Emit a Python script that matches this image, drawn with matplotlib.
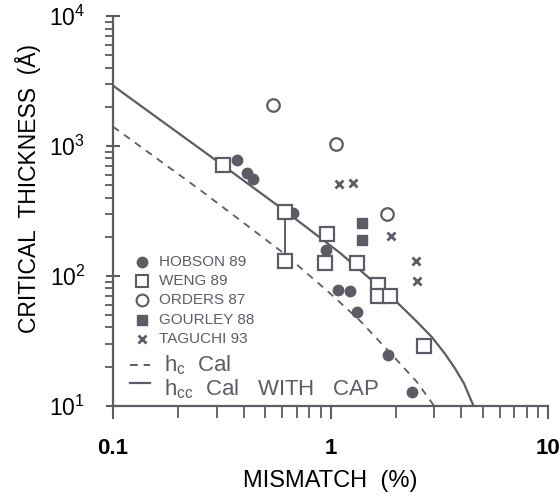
import numpy as np
import matplotlib
matplotlib.use("Agg")
import matplotlib.pyplot as plt
from matplotlib.ticker import LogLocator, FixedLocator, FixedFormatter

plt.rcParams['font.family'] = ['Liberation Sans', 'DejaVu Sans']
plt.rcParams['mathtext.fontset'] = 'custom'
plt.rcParams['mathtext.rm'] = 'Liberation Sans'
plt.rcParams['mathtext.it'] = 'Liberation Sans'

GRAY = '#5c5c66'

# data (mismatch %, thickness A)
hobson_x = [0.371, 0.412, 0.439, 0.675, 0.953, 1.083, 1.229, 1.324, 1.84, 2.36]
hobson_y = [780, 623, 554, 307, 157, 78, 76, 52.9, 24.7, 12.7]

weng_x = [0.319, 0.62, 0.62, 0.961, 0.944, 1.328, 1.66, 1.66, 1.877, 2.69]
weng_y = [711, 312, 129, 210, 125, 125, 85.3, 70.2, 70.2, 28.6]

orders_x = [0.546, 1.055, 1.824]
orders_y = [2067, 1027, 300]

gourley_x = [1.392, 1.392]
gourley_y = [254, 189]

taguchi_x = [1.094, 1.273, 1.89, 2.47, 2.51]
taguchi_y = [510, 522, 204, 129, 92]

# calculated curves
hc_x = [0.1, 0.251, 0.607, 0.995, 1.366, 1.877, 2.49, 2.99]
hc_y = [1406, 459, 150, 73.3, 45.1, 25.6, 15.3, 10]

hcc_x = [0.1, 0.319, 0.624, 1.106, 1.98, 2.49, 2.93, 3.36, 3.74, 4.11, 4.54]
hcc_y = [2910, 711, 312, 150, 64.7, 44.5, 33.6, 25.1, 19.3, 14.8, 10]

fig = plt.figure(figsize=(5.6, 4.97), dpi=100)
ax = fig.add_axes([0.2018, 0.1837, 0.7768, 0.7841])
ax.set_xscale('log')
ax.set_yscale('log')
ax.set_xlim(0.1, 10)
ax.set_ylim(10, 1e4)

ax.plot(hc_x, hc_y, '--', color=GRAY, lw=1.3, dashes=(4, 3.5))
ax.plot(hcc_x, hcc_y, '-', color=GRAY, lw=1.6)
# vertical bar joining two WENG points
ax.plot(weng_x[1:3], weng_y[1:3], '-', color=GRAY, lw=1.4)

ax.plot(hobson_x, hobson_y, 'o', ls='none', ms=7.5, color=GRAY)
ax.plot(weng_x, weng_y, 's', ls='none', ms=10, mfc='white', mec=GRAY, mew=1.6)
ax.plot(orders_x, orders_y, 'o', ls='none', ms=9, mfc='none', mec=GRAY, mew=1.6)
ax.plot(gourley_x, gourley_y, 's', ls='none', ms=7, color=GRAY)
ax.plot(taguchi_x, taguchi_y, 'x', ls='none', ms=6, mew=2, color=GRAY)

# hand placed legend
tr = ax.transAxes
leg_rows = [
    ('HOBSON 89', dict(marker='o', ms=7.5, color=GRAY)),
    ('WENG 89', dict(marker='s', ms=9, mfc='white', mec=GRAY, mew=1.5)),
    ('ORDERS 87', dict(marker='o', ms=8.5, mfc='white', mec=GRAY, mew=1.5)),
    ('GOURLEY 88', dict(marker='s', ms=6.5, color=GRAY)),
    ('TAGUCHI 93', dict(marker='x', ms=5.5, mew=2, color=GRAY)),
]
leg_y = [0.3687, 0.32, 0.2713, 0.221, 0.172]
for (txt, kw), yy in zip(leg_rows, leg_y):
    ax.plot([0.066], [yy], ls='none', transform=tr, clip_on=False, **kw)
    ax.text(0.106, yy, txt, transform=tr, fontsize=11, color=GRAY, va='center')

ax.plot([0.039, 0.085], [0.1045, 0.1045], '--', color=GRAY, lw=1.4, dashes=(4, 3),
        transform=tr)
ax.text(0.118, 0.087, r'h$_c$  Cal', transform=tr, fontsize=16, color=GRAY,
        va='baseline')
ax.plot([0.039, 0.085], [0.058, 0.058], '-', color=GRAY, lw=1.6, transform=tr)
ax.text(0.118, 0.0275, r'h$_{cc}$  Cal   WITH   CAP', transform=tr, fontsize=16,
        color=GRAY, va='baseline')

for s in ['top', 'right']:
    ax.spines[s].set_visible(False)
for s in ['left', 'bottom']:
    ax.spines[s].set_color(GRAY)
    ax.spines[s].set_linewidth(1.6)

ax.xaxis.set_major_locator(FixedLocator([0.1, 1, 10]))
ax.xaxis.set_major_formatter(FixedFormatter(['0.1', '1', '10']))
ax.xaxis.set_minor_locator(LogLocator(base=10, subs=np.arange(2, 10), numticks=10))
ax.yaxis.set_minor_locator(LogLocator(base=10, subs=np.arange(2, 10), numticks=10))
ax.tick_params(which='major', direction='inout', length=10, width=1.5, color=GRAY)
ax.tick_params(which='minor', direction='out', length=7, width=1.3, color=GRAY)
ax.tick_params(axis='x', which='major', direction='out', length=9, pad=14,
               labelsize=16)
ax.tick_params(axis='x', which='minor', length=8.5)
ax.tick_params(axis='y', which='major', labelsize=16.5, pad=15)
ax.tick_params(axis='y', which='minor', length=6)
for lab in ax.get_xticklabels():
    lab.set_fontweight('bold')

ax.set_xlabel('MISMATCH  (%)', fontsize=17, labelpad=8)
ax.set_ylabel('CRITICAL  THICKNESS  (Å)', fontsize=16.5)
ax.yaxis.set_label_coords(-0.165, 0.557)

fig.savefig('out.png', dpi=100)
